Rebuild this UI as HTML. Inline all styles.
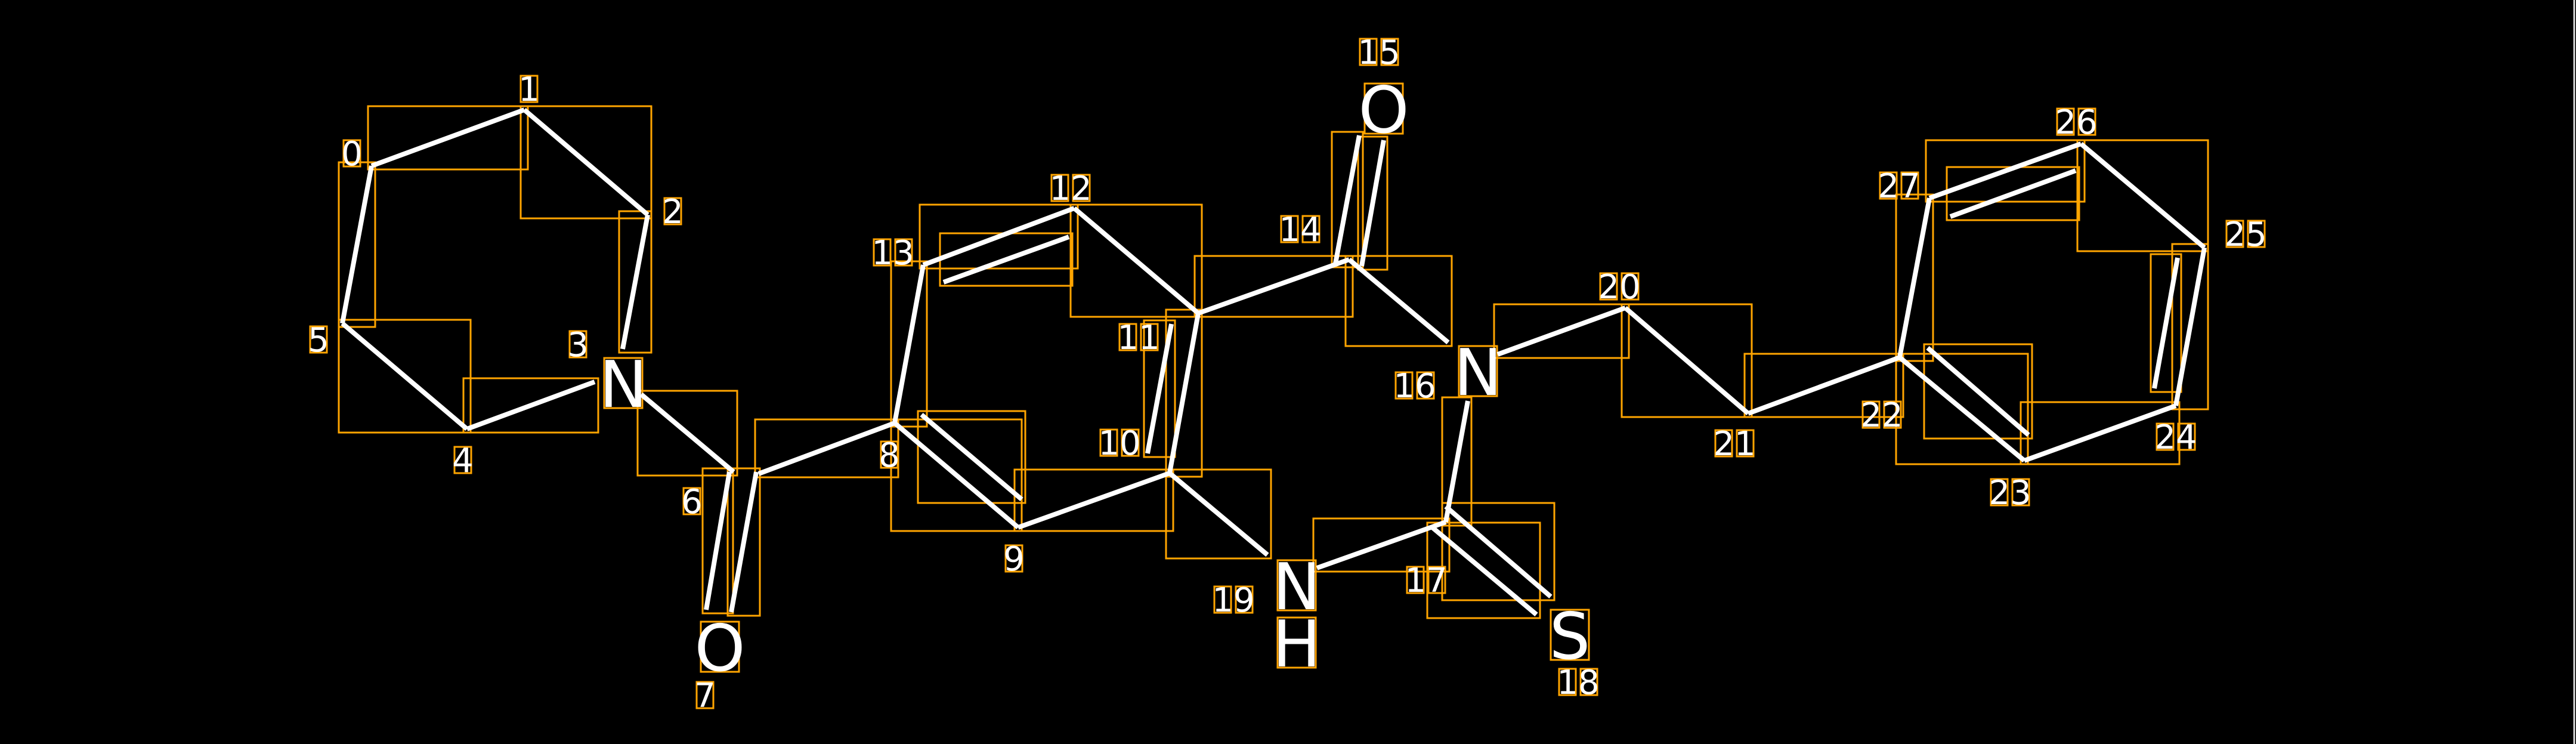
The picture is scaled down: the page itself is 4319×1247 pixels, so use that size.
<!DOCTYPE html>
<html><head><meta charset="utf-8"><style>
html,body{margin:0;padding:0;background:#000;}
svg{display:block;}
text{font-family:"DejaVu Sans","Liberation Sans",sans-serif;fill:#fff;}
</style></head><body>
<svg id="s" width="4319" height="1247" viewBox="0 0 4319 1247" xmlns="http://www.w3.org/2000/svg">
<rect width="4319" height="1247" fill="#000"/>
<line x1="4316" y1="0" x2="4316" y2="1247" stroke="#ddd" stroke-width="3"/>
<g id="boxes" fill="none" stroke="#FFA500" stroke-width="3"></g>
<g id="bonds" stroke="#fff" stroke-width="8" stroke-linecap="butt"></g>
<g id="nums" font-size="56" text-anchor="middle">
<text x="590" y="277">0</text>
<text x="887" y="169">1</text>
<text x="1128" y="374">2</text>
<text x="969" y="597">3</text>
<text x="776" y="791">4</text>
<text x="534" y="589">5</text>
<text x="1160" y="860">6</text>
<text x="1182" y="1185">7</text>
<text x="1491" y="782">8</text>
<text x="1700" y="956">9</text>
<text x="1877" y="762">10</text>
<text x="1909" y="585">11</text>
<text x="1795" y="335">12</text>
<text x="1497" y="443">13</text>
<text x="2180" y="404">14</text>
<text x="2312" y="107">15</text>
<text x="2372" y="666">16</text>
<text x="2391" y="992">17</text>
<text x="2646" y="1163">18</text>
<text x="2068" y="1025">19</text>
<text x="2715" y="500">20</text>
<text x="2908" y="763">21</text>
<text x="3155" y="715">22</text>
<text x="3370" y="845">23</text>
<text x="3648" y="752">24</text>
<text x="3765" y="412">25</text>
<text x="3481" y="224">26</text>
<text x="3184" y="331">27</text>
</g>
<g id="atoms" font-size="108" text-anchor="middle">
<text x="1045" y="682">N</text>
<text x="1207" y="1124">O</text>
<text x="2320" y="222">O</text>
<text x="2478" y="662">N</text>
<text x="2174" y="1021">N</text>
<text x="2174" y="1117">H</text>
<text x="2632" y="1104">S</text>
</g>
</svg>
<script>
var L=[
[623,278,879,184],[879,184,1086,360],[1086,360,1044,585],[997,640,783,719],[783,719,574,542],[574,542,623,278],
[1075,661,1230,791],[1223,791,1184,1022],[1268,791,1226,1026],[1272,794,1500,709],
[1500,709,1707,884],[1545,695,1713,837],[1707,884,1961,793],[1961,793,2009,525],[1964,543,1924,760],
[2009,525,1801,349],[1801,349,1548,444],[1582,473,1792,397],[1548,444,1500,709],
[2009,525,2262,435],[2239,442,2279,227],[2283,446,2320,235],[2262,435,2428,574],
[2461,672,2424,875],[2424,849,2600,1000],[2399,882,2576,1030],[2424,875,2208,952],[1961,793,2125,930],
[2511,594,2725,516],[2725,516,2931,693],[2931,693,3185,599],[3185,599,3394,772],[3232,583,3401,729],
[3394,772,3648,680],[3648,680,3696,415],[3612,651,3651,432],[3696,415,3489,241],[3489,241,3235,332],
[3270,363,3480,286],[3235,332,3185,599]];
var NS="http://www.w3.org/2000/svg";
var bg=document.getElementById('bonds'),bx=document.getElementById('boxes');
function r(x,y,w,h){var e=document.createElementNS(NS,'rect');e.setAttribute('x',x);e.setAttribute('y',y);e.setAttribute('width',w);e.setAttribute('height',h);bx.appendChild(e);}
L.forEach(function(l){
 var e=document.createElementNS(NS,'line');e.setAttribute('x1',l[0]);e.setAttribute('y1',l[1]);e.setAttribute('x2',l[2]);e.setAttribute('y2',l[3]);bg.appendChild(e);
 var p=6,x=Math.min(l[0],l[2])-p,y=Math.min(l[1],l[3])-p;
 r(x,y,Math.abs(l[2]-l[0])+2*p,Math.abs(l[3]-l[1])+2*p);
});
// per-char boxes for number labels
document.querySelectorAll('#nums text').forEach(function(t){
 var s=t.textContent,cx=+t.getAttribute('x'),by=+t.getAttribute('y'),adv=36;
 for(var i=0;i<s.length;i++){var c=cx+(i-(s.length-1)/2)*adv;r(c-14,by-42,28,44);}
});
document.querySelectorAll('#atoms text').forEach(function(t){
 var cx=+t.getAttribute('x'),by=+t.getAttribute('y');r(cx-32,by-82,64,84);
});
</script>
</body></html>
